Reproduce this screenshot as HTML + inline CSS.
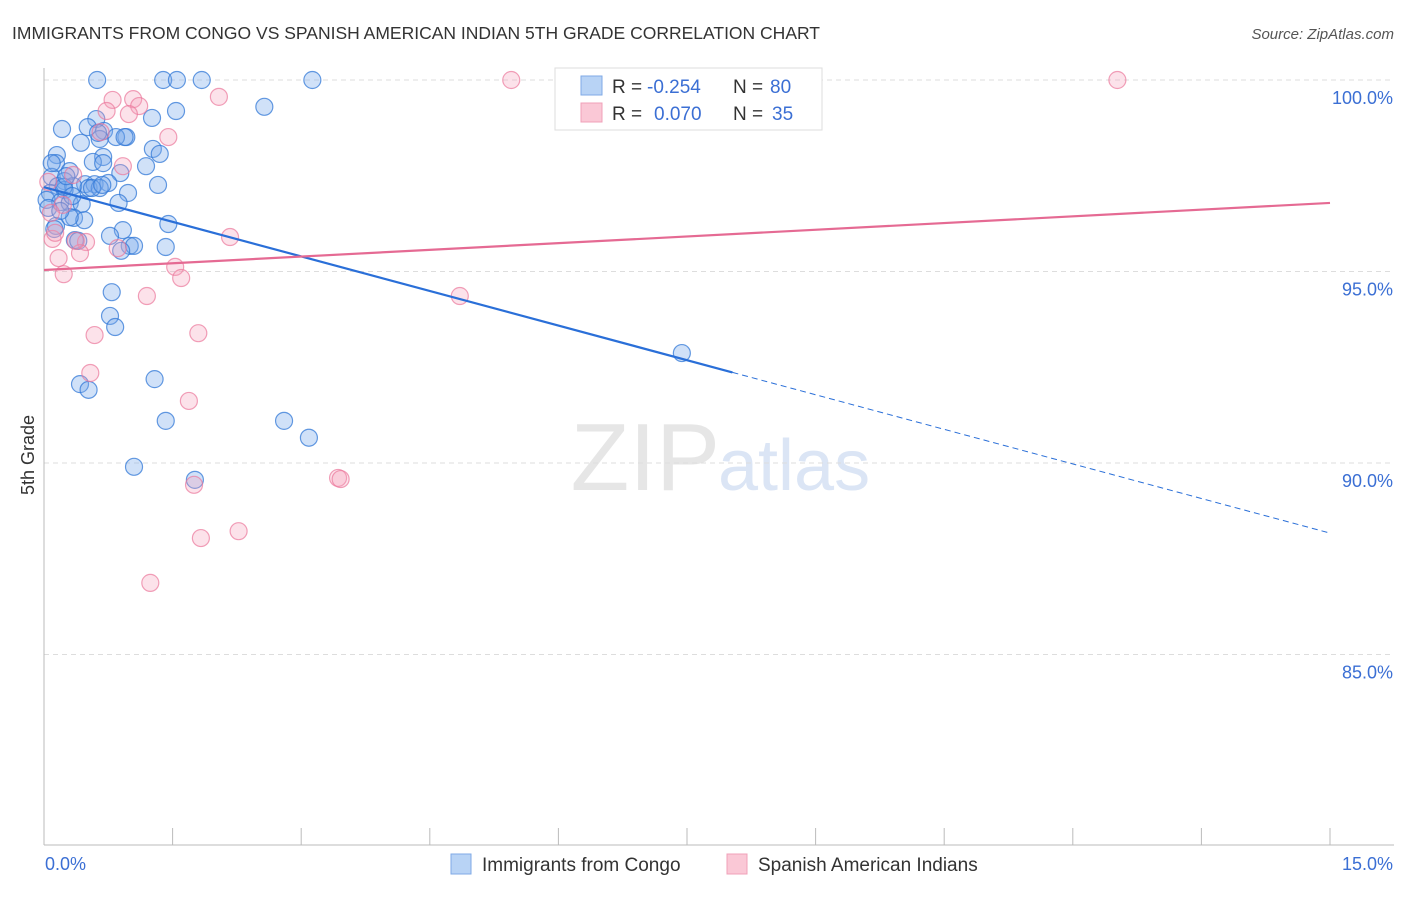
<!DOCTYPE html>
<html><head><meta charset="utf-8"><style>
body{margin:0;background:#fff;font-family:"Liberation Sans",sans-serif}
svg text{font-family:"Liberation Sans",sans-serif}
</style></head><body>
<svg id="chart" width="1406" height="892" xmlns="http://www.w3.org/2000/svg">
<text x="12" y="39" font-size="17.5" fill="#333">IMMIGRANTS FROM CONGO VS SPANISH AMERICAN INDIAN 5TH GRADE CORRELATION CHART</text>
<text x="1394" y="39" font-size="15" fill="#555" font-style="italic" text-anchor="end">Source: ZipAtlas.com</text>
<text x="720" y="490" font-size="96" fill="#e6e6e6" font-family="Liberation Serif" text-anchor="end">ZIP</text>
<text x="718" y="490" font-size="72" fill="#dbe5f5">atlas</text>
<g id="grid"></g>
<g id="axes"></g>
<g id="pts"></g>
<g id="lines"></g>
<text transform="translate(34,455) rotate(-90)" font-size="18" fill="#333" text-anchor="middle">5th Grade</text>
<text x="45" y="870" font-size="18" fill="#3b6fd4">0.0%</text>
<text x="1393" y="870" font-size="18" fill="#3b6fd4" text-anchor="end">15.0%</text>
<g>
<rect x="555" y="68" width="267" height="62" fill="#fff" stroke="#ddd"/>
<rect x="581" y="76" width="21" height="19" fill="#b8d3f5" stroke="#7fa9e6"/>
<rect x="581" y="103" width="21" height="19" fill="#fac8d6" stroke="#f0a0b8"/>
<text x="612" y="93" font-size="19" fill="#333">R =</text>
<text x="647" y="93" font-size="19" fill="#3b6fd4">-0.254</text>
<text x="733" y="93" font-size="19" fill="#333">N =</text>
<text x="770" y="93" font-size="19" fill="#3b6fd4">80</text>
<text x="612" y="120" font-size="19" fill="#333">R =</text>
<text x="654" y="120" font-size="19" fill="#3b6fd4">0.070</text>
<text x="733" y="120" font-size="19" fill="#333">N =</text>
<text x="772" y="120" font-size="19" fill="#3b6fd4">35</text>
</g>
<g>
<rect x="451" y="854" width="20" height="20" fill="#b8d3f5" stroke="#7fa9e6"/>
<text x="482" y="871" font-size="19" fill="#333">Immigrants from Congo</text>
<rect x="727" y="854" width="20" height="20" fill="#fac8d6" stroke="#f0a0b8"/>
<text x="758" y="871" font-size="19" fill="#333">Spanish American Indians</text>
</g>
</svg>
<script>
const yTicks=[100,95,90,85];
const yTickLabels=["100.0%","95.0%","90.0%","85.0%"];
const xTicks=[0,1.5,3,4.5,6,7.5,9,10.5,12,13.5,15];
const blueX=[0.62,1.39,1.55,1.84,3.13,2.57,1.54,1.26,0.61,0.21,0.51,0.70,0.96,0.84,0.65,0.43,1.27,1.35,0.15,0.69,0.57,0.14,0.69,1.19,0.89,0.30,0.09,0.24,0.48,0.59,0.16,0.34,0.75,1.33,0.52,0.65,0.24,0.98,0.07,0.03,0.19,0.30,0.44,0.87,0.05,0.35,0.47,1.45,0.14,0.92,0.77,0.36,0.40,1.00,1.05,1.42,0.90,0.79,0.77,0.83,7.44,1.29,0.42,0.52,1.42,2.80,3.09,1.05,1.76,0.23,0.56,0.26,0.09,0.30,0.19,0.33,0.94,0.63,0.68,0.12];
const blueY=[100,100,100,100,100,99.30,99.19,99.01,98.98,98.72,98.77,98.67,98.51,98.51,98.46,98.36,98.20,98.07,98.04,97.99,97.86,97.83,97.83,97.75,97.57,97.62,97.47,97.36,97.28,97.28,97.23,97.23,97.31,97.26,97.18,97.18,97.13,97.05,97.05,96.87,96.81,96.79,96.76,96.79,96.66,96.40,96.34,96.24,96.19,96.08,95.93,95.82,95.80,95.67,95.67,95.64,95.54,94.46,93.84,93.55,92.87,92.19,92.06,91.91,91.10,91.10,90.66,89.90,89.56,97.21,97.18,97.49,97.83,96.42,96.58,96.97,98.51,98.62,97.26,96.11];
const pinkX=[5.45,12.52,2.04,0.80,1.04,1.11,0.73,0.99,0.66,1.45,0.92,0.34,0.05,0.22,0.08,2.17,0.10,0.49,0.42,0.86,0.17,1.53,1.60,0.23,1.20,4.85,0.59,1.80,0.54,1.69,1.75,3.43,3.46,2.27,1.83,1.24,0.37,0.13];
const pinkY=[100,100,99.56,99.48,99.50,99.32,99.19,99.11,98.64,98.51,97.75,97.52,97.34,96.74,96.53,95.90,95.85,95.77,95.48,95.61,95.35,95.12,94.83,94.93,94.36,94.36,93.34,93.39,92.35,91.62,89.43,89.61,89.58,88.22,88.04,86.87,95.80,96.01];
const blueTrend=[97.2,88.17];
const blueSolidEnd=8.03;
const pinkTrend=[95.04,96.79];

const X0=44,X1=1330,YT=80,PPU=38.3;
function sx(v){return X0+(v/15)*(X1-X0);}
function sy(v){return YT+(100-v)*PPU;}
const NS="http://www.w3.org/2000/svg";
function mk(tag,attrs,parent){const e=document.createElementNS(NS,tag);for(const k in attrs)e.setAttribute(k,attrs[k]);parent.appendChild(e);return e;}
const grid=document.getElementById('grid'),axes=document.getElementById('axes'),pts=document.getElementById('pts'),lines=document.getElementById('lines');
yTicks.forEach((t,i)=>{
 const l=mk('line',{x1:X0,x2:1394,y1:sy(t),y2:sy(t),stroke:'#ddd','stroke-dasharray':'5,4'},grid);
 
 
 const tx=mk('text',{x:1393,y:sy(t)+24,'font-size':18,fill:'#3b6fd4','text-anchor':'end'},axes);
 tx.textContent=yTickLabels[i];
 
 
});
const ax=mk('line',{x1:X0,x2:X0,y1:68,y2:845,stroke:'#bbb'},axes);


const bx=mk('line',{x1:X0,x2:1394,y1:845,y2:845,stroke:'#bbb'},axes);


xTicks.forEach(t=>{
 const l=mk('line',{x1:sx(t),x2:sx(t),y1:828,y2:845,stroke:'#bbb'},axes);
 
 
});
blueX.forEach((x,i)=>{
 const c=mk('circle',{cx:sx(x),cy:sy(blueY[i]),r:8.5,fill:'rgba(120,170,235,0.35)',stroke:'rgba(50,120,215,0.75)','stroke-width':1.2},pts);
 
 
});
pinkX.forEach((x,i)=>{
 const c=mk('circle',{cx:sx(x),cy:sy(pinkY[i]),r:8.5,fill:'rgba(245,160,185,0.3)',stroke:'rgba(235,120,155,0.7)','stroke-width':1.2},pts);
 
 
});
function by(x){return blueTrend[0]+(blueTrend[1]-blueTrend[0])*x/15;}
const b1=mk('line',{x1:sx(0),y1:sy(by(0)),x2:sx(blueSolidEnd),y2:sy(by(blueSolidEnd)),stroke:'#2a6fd8','stroke-width':2.2},lines);


const b2=mk('line',{x1:sx(blueSolidEnd),y1:sy(by(blueSolidEnd)),x2:sx(15),y2:sy(by(15)),stroke:'#2a6fd8','stroke-width':1,'stroke-dasharray':'6,4'},lines);


const p1=mk('line',{x1:sx(0),y1:sy(pinkTrend[0]),x2:sx(15),y2:sy(pinkTrend[1]),stroke:'#e56a93','stroke-width':2.2},lines);


</script>
</body></html>
